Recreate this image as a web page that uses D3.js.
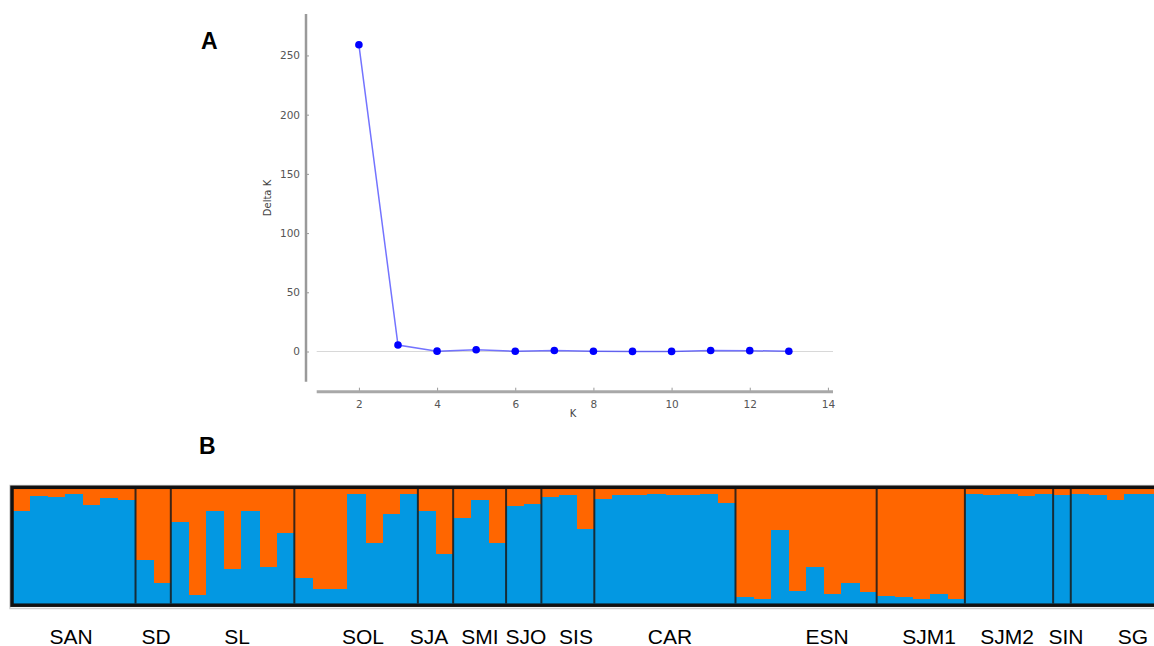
<!DOCTYPE html>
<html>
<head>
<meta charset="utf-8">
<script src="https://cdn.jsdelivr.net/npm/d3@7"></script>
<style>
  html, body { margin: 0; padding: 0; background: #fff; overflow: hidden; }
  svg { display: block; }
</style>
</head>
<body>
<svg id="chart" width="1154" height="646"></svg>
<script>
// ---- Panel A data ----
const kValues = [2, 3, 4, 5, 6, 7, 8, 9, 10, 11, 12, 13];
const deltaK  = [259, 5.5, 0.3, 1.5, 0.2, 0.8, 0.2, 0.1, 0.1, 0.8, 0.7, 0.2];
const xTicksA = [2, 4, 6, 8, 10, 12, 14];
const yTicksA = [0, 50, 100, 150, 200, 250];

// ---- Panel B data ----
const populations = ["SAN", "SD", "SL", "SOL", "SJA", "SMI", "SJO", "SIS", "CAR", "ESN", "SJM1", "SJM2", "SIN", "SG"];
const popSizes    = [7, 2, 7, 7, 2, 3, 2, 3, 8, 8, 5, 5, 1, 5];
// proportion of cluster 1 (blue) for each individual, in order
const cluster1 = [
  0.81, 0.94, 0.93, 0.956, 0.86, 0.92, 0.90,          // SAN
  0.38, 0.18,                                         // SD
  0.71, 0.07, 0.81, 0.30, 0.81, 0.32, 0.62,           // SL
  0.22, 0.13, 0.13, 0.96, 0.53, 0.78, 0.96,           // SOL
  0.81, 0.43,                                         // SJA
  0.75, 0.90, 0.53,                                   // SMI
  0.85, 0.87,                                         // SJO
  0.93, 0.95, 0.65,                                   // SIS
  0.91, 0.95, 0.95, 0.956, 0.95, 0.95, 0.956, 0.88,   // CAR
  0.06, 0.04, 0.64, 0.11, 0.32, 0.08, 0.18, 0.10,     // ESN
  0.065, 0.06, 0.04, 0.085, 0.04,                     // SJM1
  0.954, 0.945, 0.954, 0.94, 0.954,                   // SJM2
  0.945,                                              // SIN
  0.956, 0.948, 0.90, 0.956, 0.956                    // SG
];
// layout: label centre x positions (px)
const popLabelX = [71, 156, 237, 363, 429, 480, 526, 576, 670, 827, 929, 1007, 1066, 1133];

const svg = d3.select("#chart");

// ================= Panel A =================
const xA = d3.scaleLinear().domain([0.92, 14.13]).range([316.7, 833]);
const yA = d3.scaleLinear().domain([-25.5, 285]).range([381.7, 14]);
const tickColor = "#555";
const tickFont = "'DejaVu Sans', sans-serif";

// zero line
svg.append("line")
  .attr("x1", xA.range()[0]).attr("x2", xA.range()[1])
  .attr("y1", yA(0)).attr("y2", yA(0))
  .attr("stroke", "#d8d8d8").attr("stroke-width", 1);

// y axis (offset spine)
const yAxisX = 306;
const gy = svg.append("g").attr("transform", `translate(${yAxisX},0)`)
  .call(d3.axisRight(yA).tickValues(yTicksA).tickSize(3).tickFormat(d3.format("d")));
gy.select(".domain").remove();
gy.selectAll(".tick line").attr("stroke", "#999").attr("stroke-width", 1);
gy.selectAll(".tick text")
  .attr("x", -6).attr("text-anchor", "end")
  .attr("fill", tickColor).attr("font-size", 10.5).attr("font-family", tickFont);
svg.append("line")
  .attr("x1", yAxisX).attr("x2", yAxisX)
  .attr("y1", yA.range()[1]).attr("y2", yA.range()[0])
  .attr("stroke", "#9a9a9a").attr("stroke-width", 2.5);

// x axis (offset spine)
const xAxisY = 391.7;
const gx = svg.append("g").attr("transform", `translate(0,${xAxisY})`)
  .call(d3.axisTop(xA).tickValues(xTicksA).tickSize(4).tickFormat(d3.format("d")));
gx.select(".domain").remove();
gx.selectAll(".tick line").attr("stroke", "#999").attr("stroke-width", 1);
gx.selectAll(".tick text")
  .attr("y", 9).attr("dy", "0.71em")
  .attr("fill", tickColor).attr("font-size", 10.5).attr("font-family", tickFont);
svg.append("line")
  .attr("x1", xA.range()[0]).attr("x2", xA.range()[1])
  .attr("y1", xAxisY).attr("y2", xAxisY)
  .attr("stroke", "#a8a8a8").attr("stroke-width", 3);

// axis titles
svg.append("text")
  .attr("transform", "translate(271,198) rotate(-90)")
  .attr("text-anchor", "middle")
  .attr("fill", "#444").attr("font-size", 10).attr("font-family", tickFont)
  .text("Delta K");
svg.append("text")
  .attr("x", 573).attr("y", 417)
  .attr("text-anchor", "middle")
  .attr("fill", "#444").attr("font-size", 10).attr("font-family", tickFont)
  .text("K");

// line + markers
const pts = kValues.map((k, i) => [k, deltaK[i]]);
svg.append("path")
  .datum(pts)
  .attr("d", d3.line().x(d => xA(d[0])).y(d => yA(d[1])))
  .attr("fill", "none").attr("stroke", "#0000ff").attr("stroke-opacity", 0.55).attr("stroke-width", 1.5);
svg.append("g").selectAll("circle")
  .data(pts).join("circle")
  .attr("cx", d => xA(d[0])).attr("cy", d => yA(d[1]))
  .attr("r", 3.8).attr("fill", "#0000ff");

// panel letters
svg.append("text").attr("x", 201).attr("y", 49)
  .attr("font-family", "'Liberation Sans', Arial, sans-serif").attr("font-weight", "bold")
  .attr("font-size", 23).attr("fill", "#000").text("A");
svg.append("text").attr("x", 199).attr("y", 454)
  .attr("font-family", "'Liberation Sans', Arial, sans-serif").attr("font-weight", "bold")
  .attr("font-size", 23).attr("fill", "#000").text("B");

// ================= Panel B =================
const nInd = cluster1.length;
const xB = d3.scaleLinear().domain([0, nInd]).range([12, 1159]);
const yB = d3.scaleLinear().domain([0, 1]).range([603.5, 489]);
const blue = "#0398e2", orange = "#ff6600";

// shadow of frame
svg.append("rect")
  .attr("x", 10).attr("y", 485.5).attr("width", 1160).attr("height", 123)
  .attr("fill", "none").attr("stroke", "#cfcfcf").attr("stroke-width", 1.5);

// orange background for the whole plot strip, then blue bars on top
const gB = svg.append("g").attr("shape-rendering", "crispEdges");
gB.append("rect")
  .attr("x", xB(0)).attr("width", xB(nInd) - xB(0))
  .attr("y", yB(1)).attr("height", yB(0) - yB(1))
  .attr("fill", orange);
gB.selectAll("rect.blue")
  .data(cluster1).join("rect").attr("class", "blue")
  .attr("x", (d, i) => xB(i)).attr("width", (d, i) => xB(i + 1) - xB(i) + 0.6)
  .attr("y", d => yB(d)).attr("height", d => yB(0) - yB(d))
  .attr("fill", blue);

// population separators
const starts = [];
let acc = 0;
popSizes.forEach(s => { starts.push(acc); acc += s; });
svg.append("g").selectAll("line")
  .data(starts.slice(1)).join("line")
  .attr("x1", d => xB(d)).attr("x2", d => xB(d))
  .attr("y1", yB(1)).attr("y2", yB(0))
  .attr("stroke", "#1a1a1a").attr("stroke-opacity", 0.85).attr("stroke-width", 2);

// frame
svg.append("rect")
  .attr("x", 12).attr("y", 487.3).attr("width", 1160).attr("height", 117.9)
  .attr("fill", "none").attr("stroke", "#111").attr("stroke-width", 3.5);

// population labels
svg.append("g").selectAll("text")
  .data(populations).join("text")
  .attr("x", (d, i) => popLabelX[i]).attr("y", 643.5)
  .attr("text-anchor", "middle")
  .attr("font-family", "'Liberation Sans', Arial, sans-serif")
  .attr("font-size", 21).attr("fill", "#000")
  .text(d => d);
</script>
</body>
</html>
